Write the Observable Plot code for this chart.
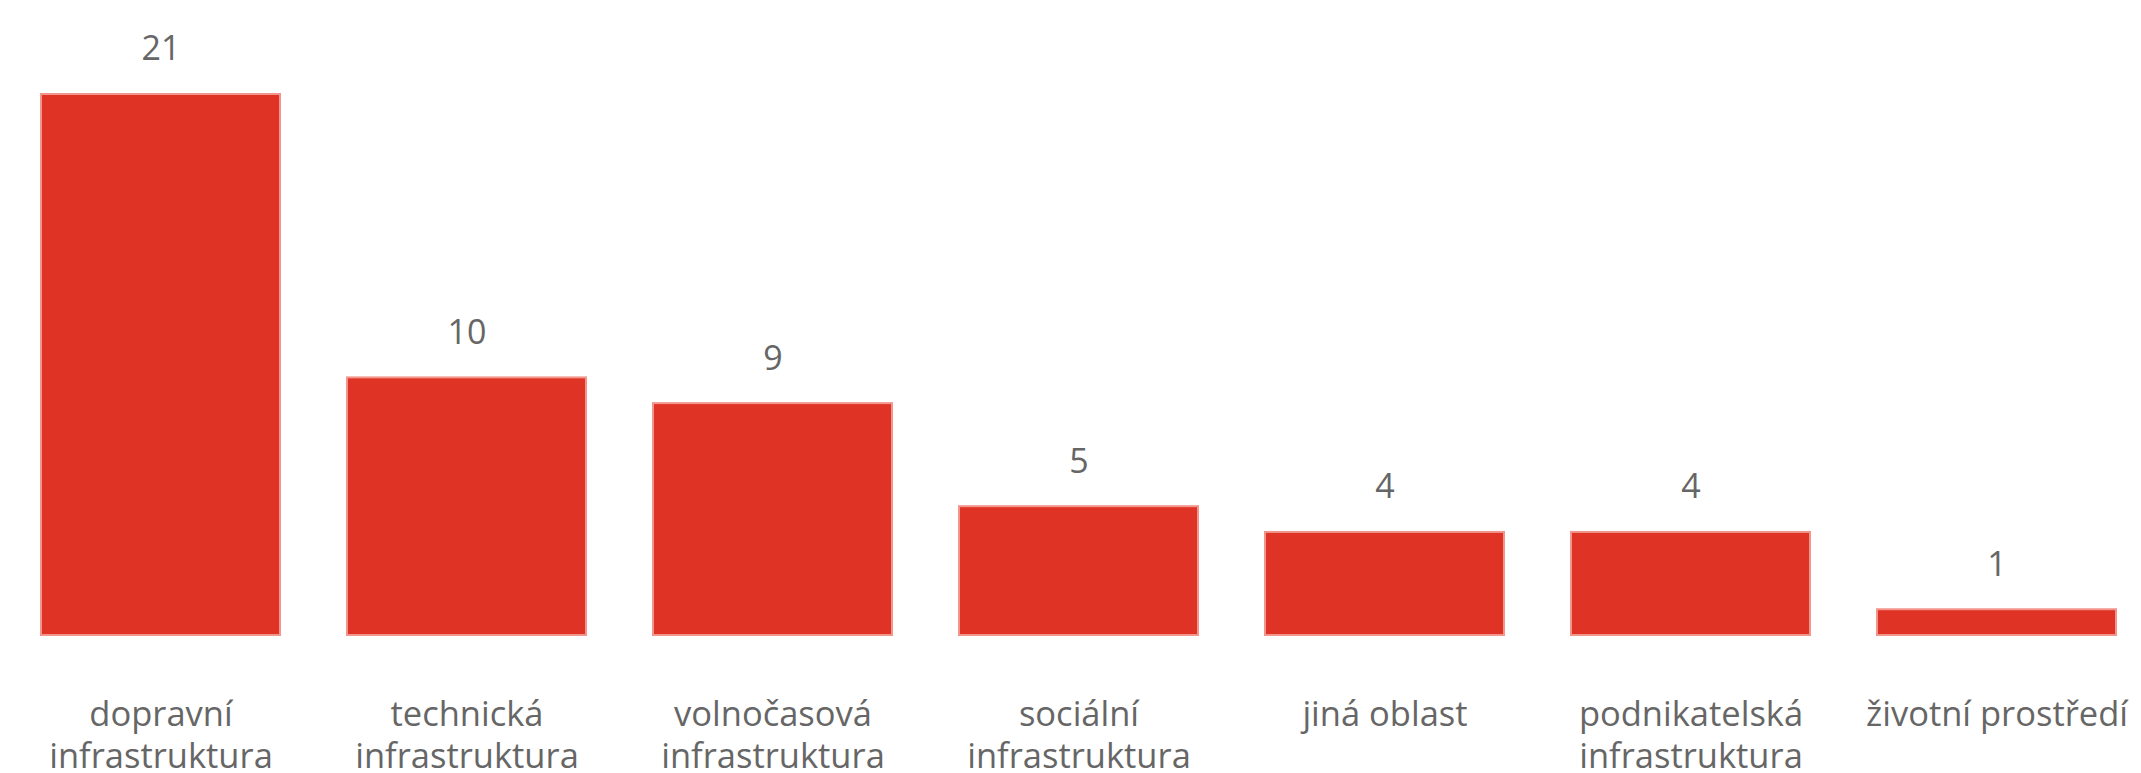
<!DOCTYPE html>
<html>
<head>
<meta charset="utf-8">
<script src="https://cdn.jsdelivr.net/npm/d3@7"></script>
<script src="https://cdn.jsdelivr.net/npm/@observablehq/plot@0.6"></script>
<style>
  html, body { margin: 0; padding: 0; background: #fff; }
  #chart { width: 2141px; height: 773px; overflow: hidden; }
</style>
</head>
<body>
<div id="chart"></div>
<script>
const categories = [
  "dopravní infrastruktura",
  "technická infrastruktura",
  "volnočasová infrastruktura",
  "sociální infrastruktura",
  "jiná oblast",
  "podnikatelská infrastruktura",
  "životní prostředí"
];
const tickLabels = [
  "dopravní\ninfrastruktura",
  "technická\ninfrastruktura",
  "volnočasová\ninfrastruktura",
  "sociální\ninfrastruktura",
  "jiná oblast",
  "podnikatelská\ninfrastruktura",
  "životní prostředí"
];
const values = [21, 10, 9, 5, 4, 4, 1];

const data = categories.map((c, i) => ({category: c, value: values[i], label: tickLabels[i]}));
const labelOf = new Map(data.map(d => [d.category, d.label]));

const chart = Plot.plot({
  width: 2141,
  height: 773,
  marginTop: 94,
  marginBottom: 138,
  marginLeft: 41,
  marginRight: 25,
  style: {fontFamily: "'Open Sans', 'Noto Sans', sans-serif", background: "#fff"},
  x: {domain: categories, paddingInner: 0.22, paddingOuter: 0, axis: null},
  y: {domain: [0, 21], axis: null},
  marks: [
    Plot.barY(data, {x: "category", y: "value", fill: "#DF3325", stroke: "#F2958C", strokeWidth: 2}),
    Plot.text(data, {x: "category", y: "value", text: d => String(d.value), dy: -45, fontSize: 34, fill: "#666"}),
    Plot.axisX({
      domain: categories,
      label: null,
      tickSize: 0,
      tickPadding: 61,
      tickFormat: c => labelOf.get(c),
      fontSize: 34.5,
      lineHeight: 1.22,
      fill: "#666",
      lineAnchor: "top"
    })
  ]
});
document.getElementById("chart").appendChild(chart);
</script>
</body>
</html>
